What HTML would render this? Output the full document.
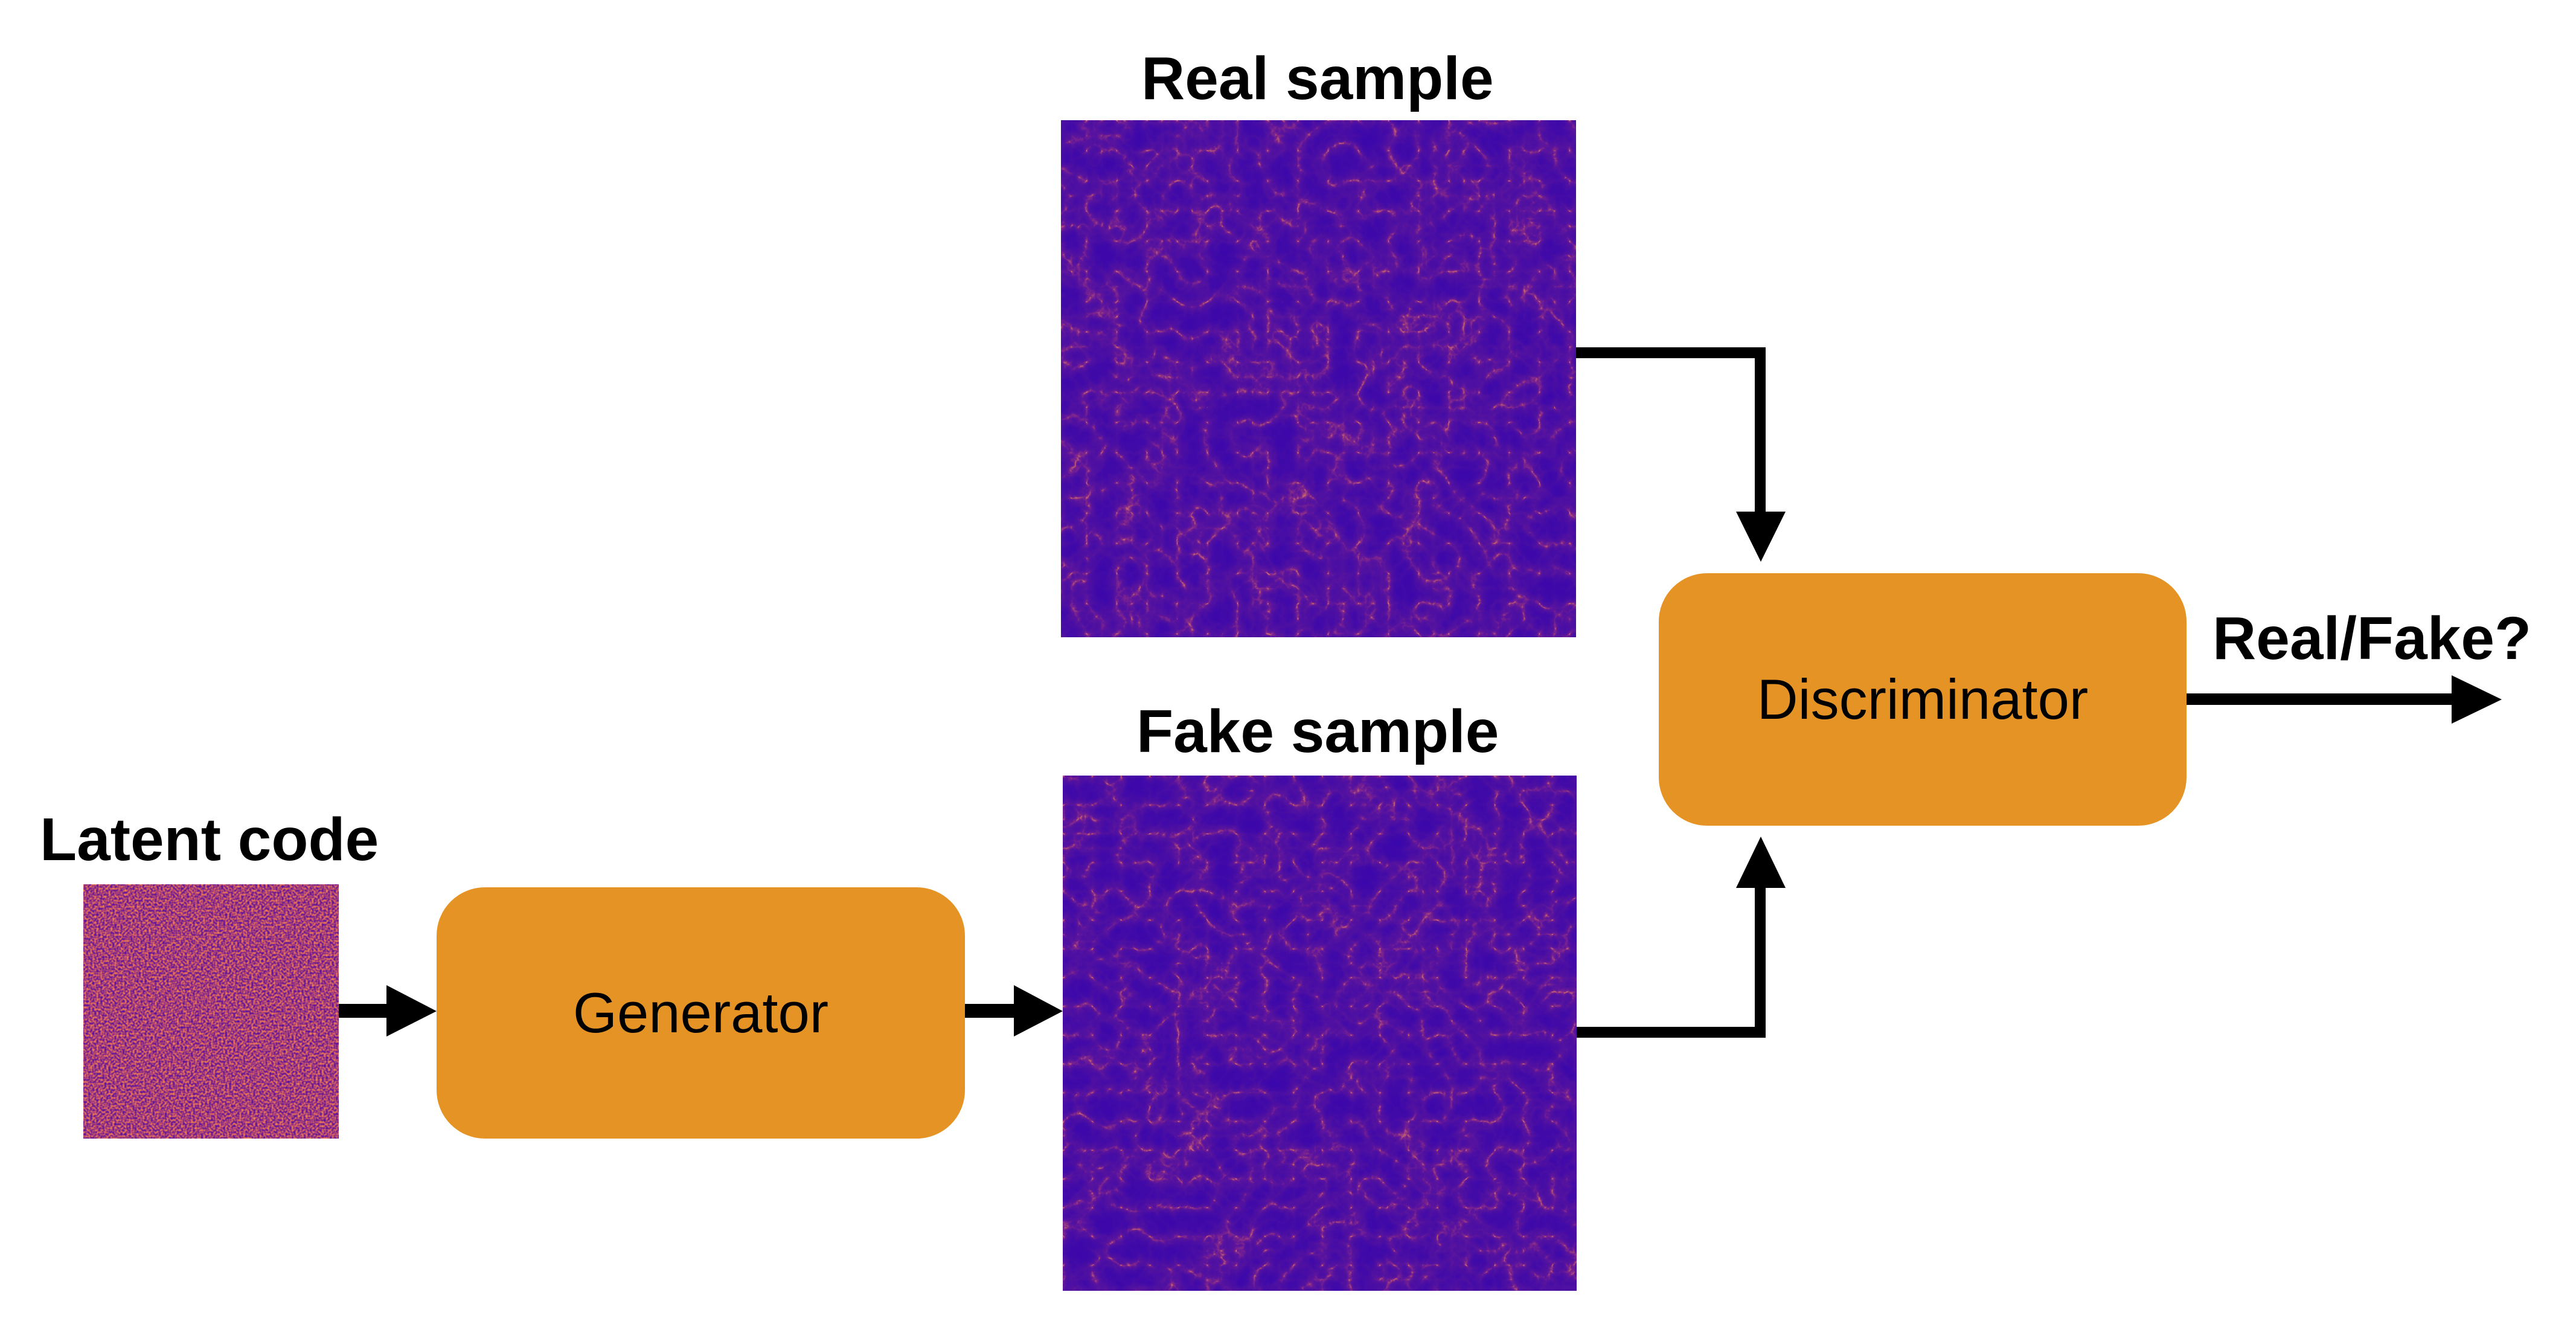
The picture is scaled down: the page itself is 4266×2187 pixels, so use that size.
<!DOCTYPE html>
<html><head><meta charset="utf-8"><style>
html,body{margin:0;padding:0;background:#fff;}
body{width:4266px;height:2187px;position:relative;overflow:hidden;font-family:"Liberation Sans",Arial,sans-serif;}
.lbl{position:absolute;font-weight:bold;font-size:100px;color:#000;white-space:nowrap;line-height:1;}
.box{position:absolute;background:#e59325;border-radius:80px;display:flex;align-items:center;justify-content:center;font-size:94px;color:#000;}
svg{position:absolute;left:0;top:0;}
</style></head><body>
<svg width="4266" height="2187" viewBox="0 0 4266 2187">
<defs>
<filter id="web" x="0" y="0" width="100%" height="100%" color-interpolation-filters="sRGB">
<feTurbulence type="turbulence" baseFrequency="0.02" numOctaves="5" seed="3"/>
<feColorMatrix type="matrix" values="1 0 0 0 0  1 0 0 0 0  1 0 0 0 0  0 0 0 0 1"/>
<feComponentTransfer>
<feFuncR type="table" tableValues="0.9 0.5 0.36 0.32 0.3 0.28 0.26 0.25 0.24 0.24 0.23 0.23"/>
<feFuncG type="table" tableValues="0.5 0.15 0.08 0.07 0.06 0.05 0.04 0.04 0.03 0.03 0.03 0.03"/>
<feFuncB type="table" tableValues="0.4 0.55 0.62 0.63 0.64 0.65 0.66 0.66 0.67 0.67 0.68 0.68"/>
</feComponentTransfer>
</filter>
<filter id="web2" x="0" y="0" width="100%" height="100%" color-interpolation-filters="sRGB">
<feTurbulence type="turbulence" baseFrequency="0.021" numOctaves="5" seed="11"/>
<feColorMatrix type="matrix" values="1 0 0 0 0  1 0 0 0 0  1 0 0 0 0  0 0 0 0 1"/>
<feComponentTransfer>
<feFuncR type="table" tableValues="0.9 0.5 0.36 0.32 0.3 0.28 0.26 0.25 0.24 0.24 0.23 0.23"/>
<feFuncG type="table" tableValues="0.5 0.15 0.08 0.07 0.06 0.05 0.04 0.04 0.03 0.03 0.03 0.03"/>
<feFuncB type="table" tableValues="0.4 0.55 0.62 0.63 0.64 0.65 0.66 0.66 0.67 0.67 0.68 0.68"/>
</feComponentTransfer>
</filter>
<filter id="lat" x="0" y="0" width="100%" height="100%" color-interpolation-filters="sRGB">
<feTurbulence type="fractalNoise" baseFrequency="0.3" numOctaves="1" seed="5"/>
<feColorMatrix type="matrix" values="1 0 0 0 0  1 0 0 0 0  1 0 0 0 0  0 0 0 0 1"/>
<feComponentTransfer>
<feFuncR type="table" tableValues="0.3 0.3 0.5 0.8 0.95 0.98"/>
<feFuncG type="table" tableValues="0.05 0.05 0.15 0.35 0.55 0.7"/>
<feFuncB type="table" tableValues="0.65 0.65 0.55 0.4 0.3 0.3"/>
</feComponentTransfer>
</filter>
</defs>
<rect x="138" y="1464" width="423" height="421" fill="#8a3590"/>
<rect x="138" y="1464" width="423" height="421" filter="url(#lat)"/>
<rect x="1757" y="199" width="853" height="856" fill="#4a10a0"/>
<rect x="1757" y="199" width="853" height="856" filter="url(#web)"/>
<rect x="1760" y="1284" width="851" height="853" fill="#4a10a0"/>
<rect x="1760" y="1284" width="851" height="853" filter="url(#web2)"/>
<rect x="561" y="1662" width="82" height="23" fill="#000"/>
<polygon points="640,1631 723,1674 640,1716" fill="#000"/>
<rect x="1598" y="1662" width="84" height="23" fill="#000"/>
<polygon points="1679,1631 1760,1674 1679,1716" fill="#000"/>
<polyline points="2610,584 2915,584 2915,850" fill="none" stroke="#000" stroke-width="18"/>
<polygon points="2875,847 2957,847 2916,930" fill="#000"/>
<polyline points="2611,1709 2915,1709 2915,1470" fill="none" stroke="#000" stroke-width="18"/>
<polygon points="2875,1470 2957,1470 2916,1385" fill="#000"/>
<rect x="3621" y="1148" width="442" height="19" fill="#000"/>
<polygon points="4060,1118 4143,1158 4060,1198" fill="#000"/>
</svg>
<div class="lbl" style="left:66px;top:1340px;">Latent code</div>
<div class="lbl" style="left:1890px;top:80px;">Real sample</div>
<div class="lbl" style="left:1882px;top:1161px;">Fake sample</div>
<div class="lbl" style="left:3664px;top:1007px;">Real/Fake?</div>
<div class="box" style="left:723px;top:1469px;width:875px;height:416px;">Generator</div>
<div class="box" style="left:2747px;top:949px;width:874px;height:418px;">Discriminator</div>
</body></html>
